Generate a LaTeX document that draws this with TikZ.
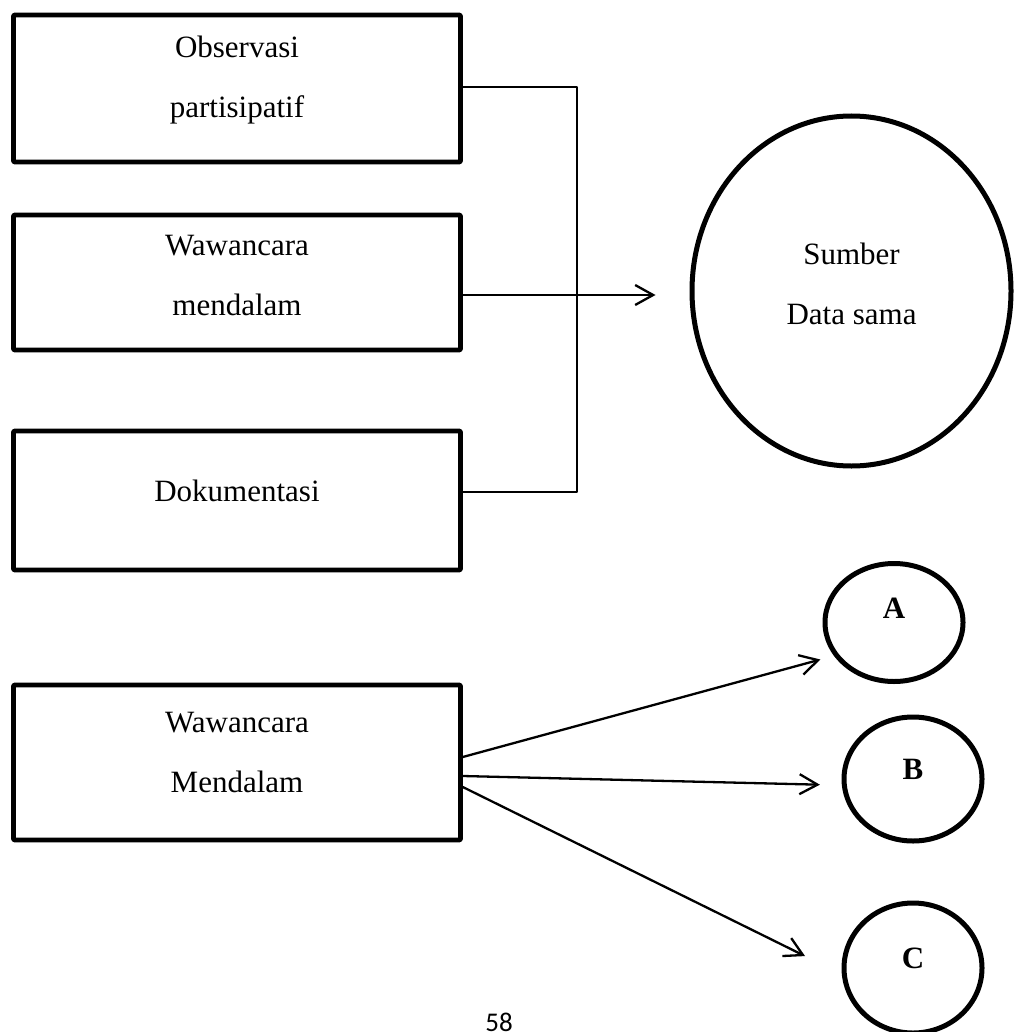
\documentclass[tikz,border=0pt]{standalone}
\usepackage{fontspec}
\setmainfont{Liberation Serif}
\newfontfamily\pagefont{Carlito}
\usetikzlibrary{
  arrows.meta,
  shapes.geometric,
}
\tikzset{
  fig58/.style={
    x=1pt, y=-1pt,
    >={Straight Barb[length=18pt, width=20pt]},
    font=\fontsize{31}{60}\selectfont,
    line join=round,
  },
  methodbox/.style={
    draw,
    line width=4.6pt,
    rounded corners=0.8pt,
    minimum width=447pt,
    inner sep=0pt,
  },
  sourceoval/.style={
    draw,
    ellipse,
    line width=5pt,
    inner sep=0pt,
  },
  boxtext/.style={
    align=center,
    inner sep=0pt,
  },
  joint/.style={line width=1.3pt},
  flow/.style={->, line width=2.3pt},
}

\begin{document}
\begin{tikzpicture}[fig58]
  \useasboundingbox (0,0) rectangle (1015,1032);

  \newcommand{\methbox}[5]{% name, y, height, text, lift
    \node[methodbox, minimum height=#3] (#1) at (237,#2) {};
    \node[boxtext] (#1-t) at ([yshift=#5]#1.center) {#4};
  }

  % triangulasi teknik
  \methbox{obs}{88.5}{147pt}{Observasi\\partisipatif}{8pt}
  \methbox{wwc}{282.5}{135pt}{Wawancara\\mendalam}{7pt}
  \methbox{dok}{500.5}{139pt}{Dokumentasi}{10pt}

  \node[sourceoval, minimum width=319pt, minimum height=350pt] (src) at (851.5,291) {};
  \node[boxtext] (src-t) at ([yshift=7pt]src.center) {Sumber\\Data sama};

  \coordinate (bartop) at (577,87);
  \coordinate (barmid) at (577,295);
  \coordinate (barbot) at (577,492);
  \draw[joint] (obs.east |- bartop) -- (bartop) -- (barbot) -- (dok.east |- barbot);
  \draw[flow, shorten >=34pt] (wwc.east |- barmid) -- (barmid -| src.west);

  % triangulasi sumber
  \methbox{wwm}{762.5}{155pt}{Wawancara\\Mendalam}{10.5pt}

  \node[sourceoval, minimum width=138pt, minimum height=118pt] (ca) at (894,622.5) {};
  \node[boxtext, font=\fontsize{31}{60}\selectfont\bfseries] (ca-t) at ([yshift=14pt]ca.center) {A};
  \node[sourceoval, minimum width=138pt, minimum height=124pt] (cb) at (913,779) {};
  \node[boxtext, font=\fontsize{31}{60}\selectfont\bfseries] (cb-t) at ([yshift=9.5pt]cb.center) {B};
  \node[sourceoval, minimum width=138pt, minimum height=130pt] (cc) at (913,968) {};
  \node[boxtext, font=\fontsize{31}{60}\selectfont\bfseries] (cc-t) at ([yshift=10pt]cc.center) {C};

  \draw[flow, shorten >=14pt] ([yshift=5.5pt]wwm.east) -- (ca.209);
  \draw[flow, shorten >=22pt] ([yshift=-13.5pt]wwm.east) -- (cb.185);
  \draw[flow, shorten >=41pt] ([yshift=-24.5pt]wwm.east) -- (cc.185);

  \node[inner sep=0pt, anchor=north, font=\pagefont\fontsize{27}{30}\selectfont] (pg) at (499,1013) {58};
\end{tikzpicture}
\end{document}
